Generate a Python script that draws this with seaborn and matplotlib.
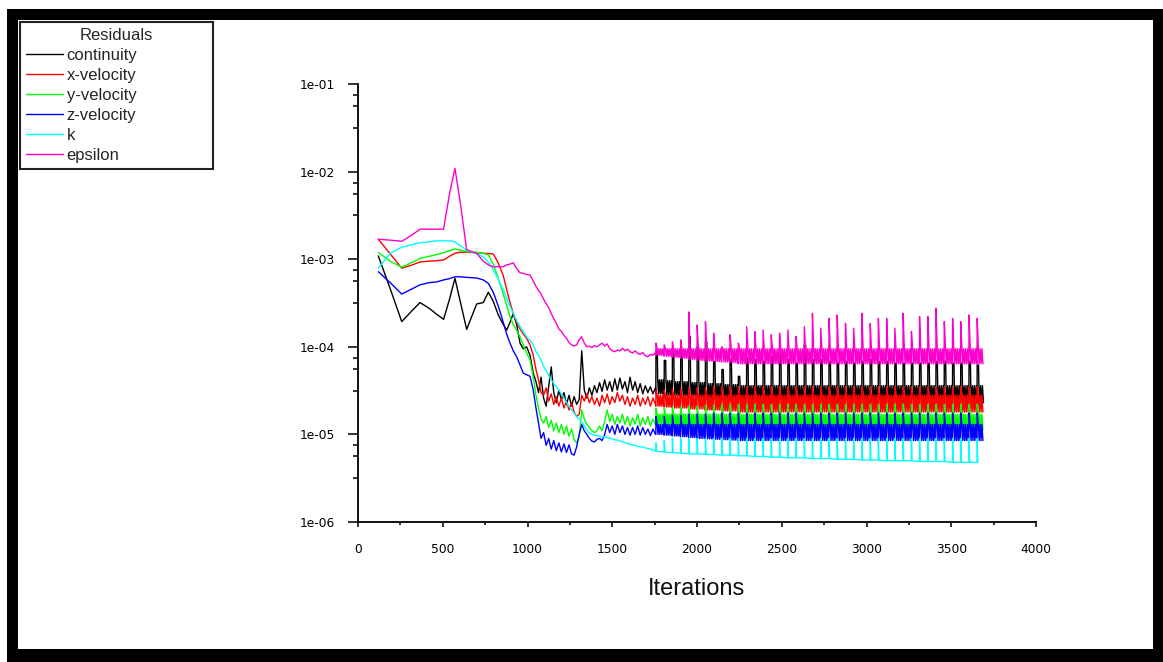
import numpy as np
import pandas as pd
import matplotlib
matplotlib.use("Agg")
import matplotlib.pyplot as plt
import seaborn as sns
from matplotlib.patches import Rectangle
from matplotlib.ticker import FixedLocator, MultipleLocator, NullFormatter

# ---------------- data ----------------
series_names = ["continuity", "x-velocity", "y-velocity", "z-velocity", "k", "epsilon"]
series_colors = ["#000000", "#ff0000", "#00ff00", "#0000ff", "#00ffff", "#ff00cc"]

y_tick_values = [1e-6, 1e-5, 1e-4, 1e-3, 1e-2, 1e-1]
y_tick_labels = ["1e-06", "1e-05", "1e-04", "1e-03", "1e-02", "1e-01"]
x_tick_values = [0, 500, 1000, 1500, 2000, 2500, 3000, 3500, 4000]
x_tick_labels = ["0", "500", "1000", "1500", "2000", "2500", "3000", "3500", "4000"]

last_iter = 3690

# early, non-periodic phase
early_iters = [120, 190, 258, 320, 366, 420, 464, 505, 540, 572, 605, 641, 700, 739,
               769, 798, 828, 857, 877, 897, 916, 936, 956, 975, 995, 1015, 1034] + \
              list(range(1050, 1756, 15))

cont_early = [1.09e-3, 4.6e-4, 1.94e-4, 2.6e-4, 3.2e-4, 2.75e-4, 2.35e-4, 2.06e-4, 3.5e-4,
              6.05e-4, 3.2e-4, 1.58e-4, 3.08e-4, 3.2e-4, 4.2e-4, 3.3e-4, 2.3e-4, 1.8e-4,
              1.55e-4, 1.9e-4, 2.4e-4, 1.8e-4, 1.1e-4, 9.5e-5, 1.0e-4, 8.0e-5, 5.0e-5,
              4.0e-5, 3.0e-5, 4.5e-5, 2.6e-5, 2.1e-5, 3.5e-5, 5.9e-5, 3.0e-5, 2.3e-5, 3.2e-5, 2.5e-5, 3.0e-5,
              2.2e-5, 2.8e-5, 2.1e-5, 2.7e-5, 2.2e-5, 2.5e-5, 9.0e-5, 3.2e-5, 2.6e-5, 3.4e-5, 2.8e-5, 3.6e-5,
              3.0e-5, 3.9e-5, 3.1e-5, 4.2e-5, 3.2e-5, 4.0e-5, 3.1e-5, 4.3e-5, 3.2e-5, 4.4e-5, 3.3e-5, 4.0e-5,
              3.0e-5, 4.5e-5, 3.2e-5, 4.0e-5, 3.0e-5, 3.8e-5, 2.9e-5, 3.6e-5, 3.0e-5, 3.5e-5, 2.9e-5, 3.4e-5]

xvel_early = [1.69e-3, 1.15e-3, 7.9e-4, 8.6e-4, 9.3e-4, 9.5e-4, 9.6e-4, 9.8e-4, 1.08e-3,
              1.17e-3, 1.2e-3, 1.2e-3, 1.18e-3, 1.17e-3, 1.16e-3, 1.15e-3, 9.0e-4, 6.5e-4,
              4.5e-4, 3.2e-4, 2.4e-4, 1.9e-4, 1.6e-4, 1.4e-4, 1.25e-4, 1.05e-4, 8.0e-5,
              5.5e-5, 4.2e-5, 3.0e-5, 2.8e-5, 3.4e-5, 2.4e-5, 2.9e-5, 2.2e-5, 2.7e-5, 2.1e-5, 2.6e-5, 2.0e-5,
              2.4e-5, 1.9e-5, 2.3e-5, 1.8e-5, 1.6e-5, 1.7e-5, 2.8e-5, 2.4e-5, 2.9e-5, 2.3e-5, 2.7e-5, 2.2e-5,
              2.6e-5, 2.1e-5, 2.8e-5, 2.3e-5, 2.9e-5, 2.2e-5, 2.7e-5, 2.3e-5, 3.0e-5, 2.4e-5, 2.8e-5, 2.2e-5,
              2.7e-5, 2.1e-5, 2.6e-5, 2.2e-5, 2.8e-5, 2.1e-5, 2.6e-5, 2.2e-5, 2.7e-5, 2.1e-5, 2.6e-5, 2.2e-5]

yvel_early = [1.19e-3, 9.5e-4, 8.1e-4, 9.2e-4, 1.02e-3, 1.08e-3, 1.13e-3, 1.19e-3, 1.25e-3,
              1.31e-3, 1.27e-3, 1.22e-3, 1.2e-3, 1.17e-3, 1.12e-3, 8.8e-4, 6.0e-4, 4.0e-4,
              3.0e-4, 2.2e-4, 1.8e-4, 1.55e-4, 1.3e-4, 1.05e-4, 8.5e-5, 7.1e-5, 4.5e-5,
              2.8e-5, 2.0e-5, 1.5e-5, 1.35e-5, 1.6e-5, 1.2e-5, 1.45e-5, 1.1e-5, 1.35e-5, 1.05e-5, 1.3e-5, 1.0e-5,
              1.25e-5, 9.5e-6, 1.15e-5, 8.8e-6, 8.0e-6, 9.5e-6, 1.9e-5, 1.5e-5, 1.3e-5, 1.2e-5, 1.1e-5, 1.05e-5,
              1.1e-5, 1.25e-5, 1.1e-5, 1.4e-5, 1.9e-5, 1.4e-5, 1.7e-5, 1.3e-5, 1.6e-5, 1.35e-5, 1.7e-5, 1.3e-5,
              1.6e-5, 1.25e-5, 1.55e-5, 1.3e-5, 1.7e-5, 1.25e-5, 1.55e-5, 1.3e-5, 1.6e-5, 1.25e-5, 1.5e-5, 1.3e-5]

zvel_early = [7.2e-4, 5.4e-4, 4.0e-4, 4.6e-4, 5.1e-4, 5.4e-4, 5.5e-4, 5.8e-4, 6.0e-4,
              6.3e-4, 6.3e-4, 6.2e-4, 6.1e-4, 5.8e-4, 5.3e-4, 4.2e-4, 2.9e-4, 1.9e-4,
              1.4e-4, 1.1e-4, 9.0e-5, 7.7e-5, 6.2e-5, 5.0e-5, 4.8e-5, 4.6e-5, 3.2e-5,
              2.0e-5, 1.35e-5, 9.0e-6, 1.05e-5, 7.5e-6, 9.0e-6, 6.8e-6, 8.5e-6, 6.5e-6, 8.0e-6, 6.3e-6, 7.8e-6,
              6.2e-6, 7.6e-6, 6.0e-6, 5.8e-6, 7.2e-6, 1.0e-5, 1.3e-5, 1.1e-5, 1.0e-5, 9.0e-6, 8.4e-6, 8.2e-6,
              8.8e-6, 9.0e-6, 8.5e-6, 1.0e-5, 1.3e-5, 1.05e-5, 1.25e-5, 1.0e-5, 1.3e-5, 1.05e-5, 1.25e-5, 1.0e-5,
              1.2e-5, 9.8e-6, 1.2e-5, 1.0e-5, 1.25e-5, 9.8e-6, 1.2e-5, 1.0e-5, 1.15e-5, 9.7e-6, 1.15e-5, 1.0e-5]

k_early = [7.9e-4, 1.17e-3, 1.37e-3, 1.47e-3, 1.54e-3, 1.58e-3, 1.62e-3, 1.62e-3, 1.62e-3,
           1.58e-3, 1.42e-3, 1.27e-3, 1.15e-3, 1.07e-3, 9.2e-4, 7.6e-4, 5.9e-4, 4.5e-4,
           3.6e-4, 2.9e-4, 2.4e-4, 2.0e-4, 1.7e-4, 1.48e-4, 1.3e-4, 1.18e-4, 1.05e-4,
           8.8e-5, 8.0e-5, 7.0e-5, 6.0e-5, 5.3e-5, 4.7e-5, 4.2e-5, 3.8e-5, 3.5e-5, 3.2e-5, 2.9e-5, 2.6e-5,
           2.3e-5, 2.1e-5, 1.9e-5, 1.75e-5, 1.6e-5, 1.5e-5, 1.38e-5, 1.25e-5, 1.12e-5, 1.03e-5, 1.0e-5, 9.8e-6,
           9.7e-6, 9.5e-6, 9.3e-6, 9.4e-6, 9.2e-6, 9.0e-6, 8.9e-6, 8.7e-6, 8.6e-6, 8.4e-6, 8.3e-6, 8.0e-6,
           7.9e-6, 7.7e-6, 7.6e-6, 7.5e-6, 7.3e-6, 7.2e-6, 7.2e-6, 7.0e-6, 6.9e-6, 6.8e-6, 6.6e-6, 6.5e-6]

eps_early = [1.69e-3, 1.65e-3, 1.60e-3, 1.9e-3, 2.2e-3, 2.2e-3, 2.2e-3, 2.2e-3, 5.6e-3,
             1.09e-2, 4.2e-3, 1.28e-3, 1.17e-3, 9.5e-4, 8.6e-4, 8.2e-4, 8.2e-4, 8.2e-4,
             8.6e-4, 8.8e-4, 9.1e-4, 7.8e-4, 7.0e-4, 6.9e-4, 6.7e-4, 6.6e-4, 5.6e-4,
             4.9e-4, 4.4e-4, 4.0e-4, 3.5e-4, 3.1e-4, 2.8e-4, 2.4e-4, 2.1e-4, 1.85e-4, 1.6e-4, 1.5e-4, 1.35e-4,
             1.25e-4, 1.12e-4, 1.05e-4, 1.02e-4, 1.05e-4, 1.2e-4, 1.3e-4, 1.1e-4, 1.0e-4, 1.02e-4, 9.8e-5, 1.03e-4,
             1.0e-4, 1.05e-4, 1.1e-4, 1.02e-4, 1.08e-4, 9.5e-5, 9.0e-5, 8.8e-5, 9.2e-5, 9.0e-5, 9.6e-5, 9.0e-5,
             9.4e-5, 8.8e-5, 8.5e-5, 9.0e-5, 8.4e-5, 8.2e-5, 8.6e-5, 7.9e-5, 7.7e-5, 8.2e-5, 8.0e-5, 8.6e-5]

# periodic phase: one spike per time step
spike_iters = [1757, 1806, 1854, 1903, 1951, 2000, 2049, 2097, 2146, 2194,
               2243, 2292, 2340, 2389, 2437, 2486, 2535, 2583, 2632, 2680,
               2729, 2778, 2826, 2875, 2923, 2972, 3021, 3069, 3118, 3166,
               3215, 3264, 3312, 3361, 3409, 3458, 3507, 3555, 3604, 3652]

cont_peak = [8.8e-5, 7.0e-5, 8.8e-5, 8.8e-5, 1.31e-4, 1.0e-4, 1.14e-4, 6.8e-5, 5.5e-5, 7.1e-5,
             4.6e-5, 7.4e-5, 7.1e-5, 6.8e-5, 7.7e-5, 8.4e-5, 7.1e-5, 6.5e-5, 1.05e-4, 7.1e-5,
             7.1e-5, 6.8e-5, 6.5e-5, 6.8e-5, 6.5e-5, 6.8e-5, 7.1e-5, 6.8e-5, 6.8e-5, 6.5e-5,
             6.5e-5, 6.5e-5, 6.5e-5, 6.5e-5, 6.8e-5, 6.8e-5, 6.5e-5, 6.5e-5, 6.8e-5, 6.2e-5]
cont_hi = [4.2e-5, 4.1e-5, 4.0e-5, 4.0e-5, 3.9e-5, 3.9e-5, 3.8e-5, 3.8e-5, 3.7e-5, 3.7e-5] + [3.6e-5] * 30
cont_lo = [2.9e-5, 2.8e-5, 2.8e-5, 2.7e-5, 2.7e-5, 2.6e-5, 2.6e-5, 2.5e-5, 2.5e-5, 2.4e-5] + [2.3e-5] * 30

xvel_peak = [3.2e-5, 3.2e-5, 3.3e-5, 3.3e-5, 3.4e-5, 3.4e-5, 3.4e-5, 3.5e-5, 3.5e-5, 3.5e-5] + [3.5e-5] * 30
xvel_hi = [2.8e-5] * 40
xvel_lo = [2.1e-5, 2.05e-5, 2.0e-5, 2.0e-5, 1.95e-5, 1.95e-5, 1.9e-5, 1.9e-5, 1.85e-5, 1.85e-5] + [1.8e-5] * 30

yvel_peak = [2.0e-5, 2.0e-5, 2.05e-5, 2.05e-5, 2.1e-5, 2.1e-5, 2.15e-5, 2.15e-5, 2.2e-5, 2.2e-5] + [2.2e-5] * 30
yvel_hi = [1.7e-5] * 40
yvel_lo = [1.3e-5, 1.28e-5, 1.25e-5, 1.22e-5, 1.2e-5, 1.2e-5, 1.18e-5, 1.16e-5, 1.15e-5, 1.15e-5] + [1.12e-5] * 30

zvel_peak = [1.6e-5, 1.6e-5, 1.65e-5, 1.65e-5, 1.7e-5, 1.7e-5, 1.7e-5, 1.75e-5, 1.75e-5, 1.75e-5] + [1.75e-5] * 30
zvel_hi = [1.3e-5] * 40
zvel_lo = [1.0e-5, 9.8e-6, 9.6e-6, 9.4e-6, 9.2e-6, 9.0e-6, 8.9e-6, 8.8e-6, 8.7e-6, 8.6e-6] + [8.5e-6] * 30

k_peak = [8.0e-6, 8.5e-6] + [9.0e-6] * 38
k_base = [6.4e-6, 6.3e-6, 6.2e-6, 6.1e-6, 6.0e-6, 6.0e-6, 5.9e-6, 5.9e-6, 5.8e-6, 5.8e-6,
          5.7e-6, 5.7e-6, 5.6e-6, 5.6e-6, 5.5e-6, 5.5e-6, 5.4e-6, 5.4e-6, 5.4e-6, 5.3e-6,
          5.3e-6, 5.3e-6, 5.2e-6, 5.2e-6, 5.2e-6, 5.1e-6, 5.1e-6, 5.1e-6, 5.0e-6, 5.0e-6,
          5.0e-6, 5.0e-6, 4.9e-6, 4.9e-6, 4.9e-6, 4.9e-6, 4.8e-6, 4.8e-6, 4.8e-6, 4.8e-6]

eps_peak = [1.1e-4, 1.05e-4, 1.14e-4, 1.2e-4, 2.5e-4, 1.77e-4, 1.94e-4, 1.43e-4, 1.0e-4, 1.37e-4,
            1.1e-4, 1.7e-4, 1.49e-4, 1.56e-4, 1.37e-4, 1.43e-4, 1.56e-4, 1.31e-4, 1.7e-4, 2.41e-4,
            1.63e-4, 2.11e-4, 2.31e-4, 1.85e-4, 1.63e-4, 2.41e-4, 1.85e-4, 2.11e-4, 2.11e-4, 1.63e-4,
            2.41e-4, 1.5e-4, 2.21e-4, 2.21e-4, 2.75e-4, 1.94e-4, 2.11e-4, 1.94e-4, 2.31e-4, 2.11e-4]
eps_hi = [9.5e-5] * 40
eps_lo = [8.0e-5, 7.8e-5, 7.6e-5, 7.4e-5, 7.2e-5, 7.0e-5, 6.9e-5, 6.8e-5, 6.7e-5, 6.6e-5] + [6.4e-5] * 30

# shape of one time step (iteration offset after the spike, level)
step_shape = [(0, "lo"), (1, "pk"), (8, "hi"), (13, "lo"), (18, "hi"), (24, "lo"),
              (29, "hi"), (35, "lo"), (41, "hi"), (46, "lo")]
wide_step_shape = [(0, "lo"), (1, "pk"), (9, "pk"), (11, "hi"), (16, "lo"), (21, "hi"), (27, "lo"),
                   (32, "hi"), (38, "lo"), (43, "hi"), (47, "lo")]
k_step_shape = [(0, "lo"), (1, "pk"), (5, "lo")]


def assemble(early_vals, peaks, his, los, shape):
    xs = list(early_iters)
    ys = list(early_vals)
    for s, p, h, l in zip(spike_iters, peaks, his, los):
        level = {"pk": p, "hi": h, "lo": l}
        for off, key in shape:
            if s + off <= last_iter:
                xs.append(s + off)
                ys.append(level[key])
    return xs, ys


curves = [
    assemble(cont_early, cont_peak, cont_hi, cont_lo, wide_step_shape),
    assemble(xvel_early, xvel_peak, xvel_hi, xvel_lo, step_shape),
    assemble(yvel_early, yvel_peak, yvel_hi, yvel_lo, step_shape),
    assemble(zvel_early, zvel_peak, zvel_hi, zvel_lo, step_shape),
    assemble(k_early, k_peak, k_base, k_base, k_step_shape),
    assemble(eps_early, eps_peak, eps_hi, eps_lo, step_shape),
]

frames = []
for name, (xs, ys) in zip(series_names, curves):
    frames.append(pd.DataFrame({"Iterations": xs, "Residual": ys, "series": name}))
df = pd.concat(frames, ignore_index=True)

# ---------------- figure ----------------
sns.set_theme(style="white")
plt.rcParams["font.family"] = ["Liberation Sans", "DejaVu Sans"]

W, H = 1163, 662
fig = plt.figure(figsize=(W / 100, H / 100), dpi=100)
fig.patch.set_facecolor("white")

# black picture frame
fig.patches.append(Rectangle((7 / W, 0), (W - 7) / W, (H - 9) / H, transform=fig.transFigure,
                             facecolor="black", edgecolor="none", zorder=-3))
fig.patches.append(Rectangle((18 / W, 13 / H), (1153 - 18) / W, (649 - 20) / H,
                             transform=fig.transFigure, facecolor="white", edgecolor="none", zorder=-2))

ax = fig.add_axes([358 / W, (H - 522) / H, (1036 - 358) / W, (522 - 84) / H])
ax.patch.set_alpha(0)

for name, color in zip(series_names, series_colors):
    sub = df[df["series"] == name]
    sns.lineplot(data=sub, x="Iterations", y="Residual", color=color, linewidth=1.0,
                 estimator=None, sort=False, ax=ax, label=name)

leg0 = ax.get_legend()
if leg0 is not None:
    leg0.remove()

ax.set_yscale("log")
ax.set_xlim(0, 4000)
ax.set_ylim(1e-6, 1e-1)

ax.yaxis.set_major_locator(FixedLocator(y_tick_values))
ax.set_yticklabels(y_tick_labels)
minor_y = []
for e in range(-6, -1):
    for f in (0.5, 0.75, 0.875):
        minor_y.append(10 ** (e + f))
ax.yaxis.set_minor_locator(FixedLocator(minor_y))
ax.yaxis.set_minor_formatter(NullFormatter())

ax.xaxis.set_major_locator(FixedLocator(x_tick_values))
ax.set_xticklabels(x_tick_labels)
ax.xaxis.set_minor_locator(MultipleLocator(250))

for side in ("top", "right"):
    ax.spines[side].set_visible(False)
for side in ("left", "bottom"):
    ax.spines[side].set_color("#111111")
    ax.spines[side].set_linewidth(1.4)

ax.tick_params(axis="y", which="major", direction="out", length=7.5, width=1.2,
               color="#111111", pad=9, labelsize=8.8, left=True)
ax.tick_params(axis="y", which="minor", direction="out", length=3.8, width=1.2,
               color="#111111", left=True)
ax.tick_params(axis="x", which="major", direction="out", length=3.6, width=1.2,
               color="#111111", pad=11.5, labelsize=8.8, bottom=True)
ax.tick_params(axis="x", which="minor", direction="out", length=2.2, width=1.2,
               color="#111111", bottom=True)
for lab in ax.get_xticklabels() + ax.get_yticklabels():
    lab.set_family("DejaVu Sans")
    lab.set_color("black")

ax.set_xlabel("Iterations", fontsize=17, color="#111111", labelpad=16)
ax.set_ylabel("")

handles, labels = ax.get_legend_handles_labels()
leg = fig.legend(handles, labels, title="Residuals", loc="upper left",
                 bbox_to_anchor=(20 / W, (H - 167) / H, 193 / W, 145 / H),
                 bbox_transform=fig.transFigure, mode="expand", borderaxespad=0,
                 fancybox=False, framealpha=1, edgecolor="#222222",
                 prop={"family": "Liberation Sans", "size": 12}, title_fontsize=12,
                 labelspacing=0.3, handlelength=2.2, handletextpad=0.25, borderpad=0.35)
leg.get_frame().set_linewidth(1.5)

fig.savefig("out.png", dpi=100)
